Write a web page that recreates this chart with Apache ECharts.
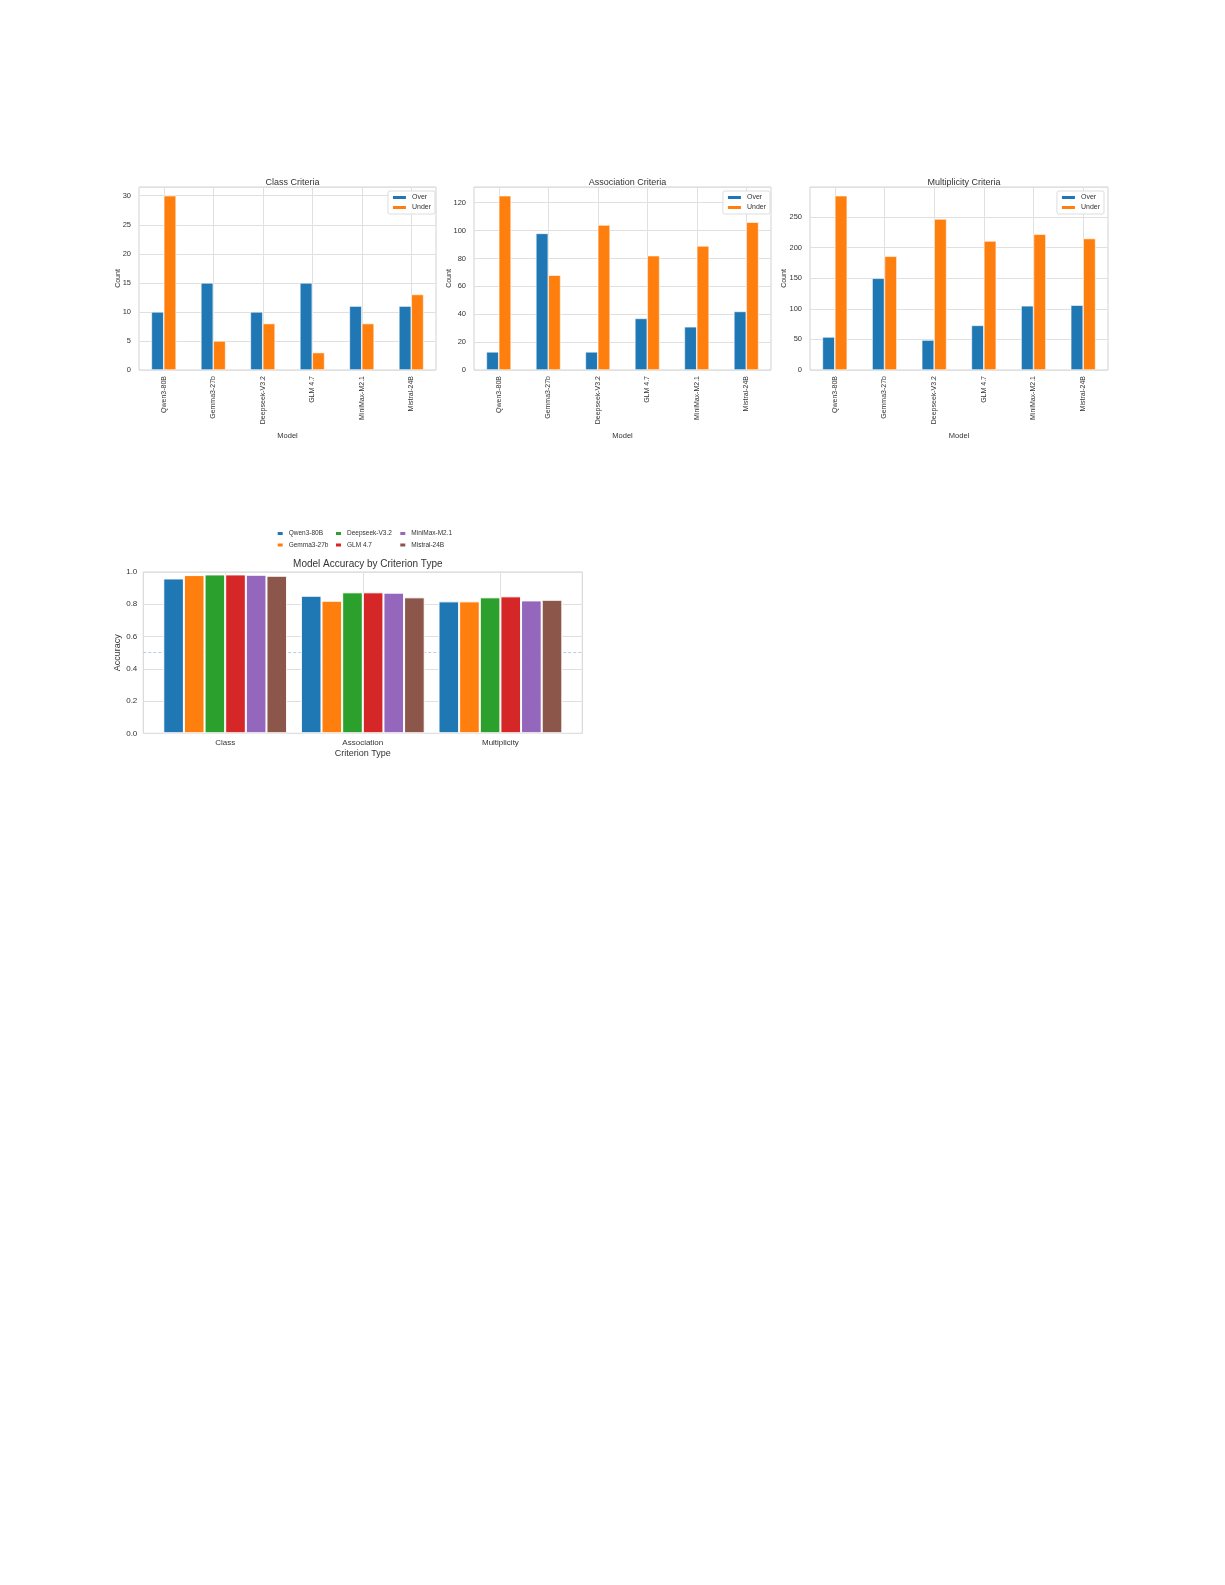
<!DOCTYPE html>
<html>
<head>
<meta charset="utf-8">
<script src="https://cdn.jsdelivr.net/npm/echarts@6/dist/echarts.min.js"></script>
<style>
html,body{margin:0;padding:0;background:#fff;}
#chart{width:1225px;height:1585px;}
</style>
</head>
<body>
<div id="chart"></div>
<script>
// ---------- data ----------
const models = ['Qwen3-80B', 'Gemma3-27b', 'Deepseek-V3.2', 'GLM 4.7', 'MiniMax-M2.1', 'Mistral-24B'];
const classOver = [10, 15, 10, 15, 11, 11];
const classUnder = [30, 5, 8, 3, 8, 13];
const assocOver = [13, 98, 13, 37, 31, 42];
const assocUnder = [125, 68, 104, 82, 89, 106];
const multOver = [54, 150, 49, 73, 105, 106];
const multUnder = [285, 186, 247, 211, 222, 215];

const criteria = ['Class', 'Association', 'Multiplicity'];
const accQwen = [0.960, 0.853, 0.818];
const accGemma = [0.981, 0.822, 0.818];
const accDeepseek = [0.985, 0.874, 0.843];
const accGLM = [0.985, 0.874, 0.849];
const accMiniMax = [0.983, 0.872, 0.824];
const accMistral = [0.977, 0.843, 0.828];
const accModels = ['Qwen3-80B', 'Gemma3-27b', 'Deepseek-V3.2', 'GLM 4.7', 'MiniMax-M2.1', 'Mistral-24B'];
const accSeries = [accQwen, accGemma, accDeepseek, accGLM, accMiniMax, accMistral];
const refLine = 0.5;

// ---------- style ----------
const FONT = '"Liberation Sans", Arial, Helvetica, sans-serif';
const TXT = '#333333';
const GRIDC = '#e0e0e0';
const BORDERC = '#d2d2d2';
const tab10 = ['#1f77b4', '#ff7f0e', '#2ca02c', '#d62728', '#9467bd', '#8c564b'];

const topPanels = [
  { title: 'Class Criteria', over: classOver, under: classUnder, max: 30 * 1.05, interval: 5, left: 139, width: 297, legendRight: 790, yNameGap: 17 },
  { title: 'Association Criteria', over: assocOver, under: assocUnder, max: 125 * 1.05, interval: 20, left: 474, width: 297, legendRight: 455, yNameGap: 21.5 },
  { title: 'Multiplicity Criteria', over: multOver, under: multUnder, max: 285 * 1.05, interval: 50, left: 810, width: 298, legendRight: 121, yNameGap: 22 }
];
const TOP_Y = 187, TOP_H = 183;

const grid = [], xAxis = [], yAxis = [], series = [], title = [], legend = [];

function gridLineSeries(xi, yi, cats) {
  return { type: 'line', name: '_grid' + xi, xAxisIndex: xi, yAxisIndex: yi, data: [],
    silent: true,
    markLine: { silent: true, symbol: 'none', z: 1, label: { show: false },
      emphasis: { disabled: true },
      lineStyle: { color: GRIDC, width: 1, type: 'solid' },
      data: cats.map(c => ({ xAxis: c })) } };
}

topPanels.forEach((p, i) => {
  grid.push({ left: p.left, top: TOP_Y, width: p.width, height: TOP_H, show: true,
    backgroundColor: '#fff', borderColor: BORDERC, borderWidth: 1, containLabel: false });
  xAxis.push({ type: 'category', gridIndex: i, data: models,
    axisLine: { show: false }, axisTick: { show: false },
    axisLabel: { rotate: 90, fontSize: 7, color: TXT, fontFamily: FONT, margin: 6, interval: 0 },
    name: 'Model', nameLocation: 'middle', nameGap: 62,
    nameTextStyle: { fontSize: 7.5, color: TXT, fontFamily: FONT } });
  yAxis.push({ type: 'value', gridIndex: i, min: 0, max: p.max, interval: p.interval,
    axisLine: { show: false }, axisTick: { show: false },
    splitLine: { lineStyle: { color: GRIDC, width: 1 } },
    axisLabel: { fontSize: 7.5, color: TXT, fontFamily: FONT, margin: 8, showMaxLabel: false },
    name: 'Count', nameLocation: 'middle', nameGap: p.yNameGap, nameMoveOverlap: false,
    nameTextStyle: { fontSize: 7, color: TXT, fontFamily: FONT } });
  series.push(gridLineSeries(i, i, models));
  series.push({ type: 'bar', name: 'Over', xAxisIndex: i, yAxisIndex: i, data: p.over,
    barWidth: '25%', barGap: '0%', itemStyle: { color: tab10[0], borderColor: '#fff', borderWidth: 0.6 },
    emphasis: { disabled: true } });
  series.push({ type: 'bar', name: 'Under', xAxisIndex: i, yAxisIndex: i, data: p.under,
    barWidth: '25%', barGap: '0%', itemStyle: { color: tab10[1], borderColor: '#fff', borderWidth: 0.6 },
    emphasis: { disabled: true } });
  title.push({ text: p.title, left: p.left + p.width / 2, top: 173, textAlign: 'center',
    textStyle: { fontSize: 9, fontWeight: 'normal', color: TXT, fontFamily: FONT } });
  legend.push({ data: ['Over', 'Under'], orient: 'vertical', right: p.legendRight, top: 191,
    itemWidth: 15, itemHeight: 5, itemGap: 3, icon: 'rect', padding: [3, 4, 3, 3],
    backgroundColor: 'rgba(255,255,255,0.85)', borderColor: '#dddddd', borderWidth: 1, borderRadius: 2,
    textStyle: { fontSize: 7, color: TXT, fontFamily: FONT }, selectedMode: false });
});

// ---------- bottom chart ----------
const B_LEFT = 143.3, B_TOP = 572, B_W = 439, B_H = 161.3;
// x limits of matplotlib axis in category units: -0.595 .. 2.595
const XL = -0.595, XR = 2.595;
const unit = B_W / (XR - XL);
const dLeft = B_LEFT + (-0.5 - XL) * unit;
const dWidth = 3 * unit;

// background frame grid (index 3)
grid.push({ left: B_LEFT, top: B_TOP, width: B_W, height: B_H, show: true,
  backgroundColor: '#fff', borderColor: BORDERC, borderWidth: 1 });
xAxis.push({ type: 'value', gridIndex: 3, min: XL, max: XR, show: false });
yAxis.push({ type: 'value', gridIndex: 3, min: 0, max: 1, interval: 0.2,
  axisLine: { show: false }, axisTick: { show: false },
  splitLine: { lineStyle: { color: GRIDC, width: 1 } },
  axisLabel: { fontSize: 8, color: TXT, fontFamily: FONT, margin: 6, formatter: v => v.toFixed(1) },
  name: 'Accuracy', nameLocation: 'middle', nameGap: 21, nameMoveOverlap: false,
  nameTextStyle: { fontSize: 9, color: TXT, fontFamily: FONT } });
series.push({ type: 'line', name: 'ref', xAxisIndex: 3, yAxisIndex: 3, data: [], silent: true,
  markLine: { silent: true, symbol: 'none', z: 1, label: { show: false },
    lineStyle: { color: '#a9bfd3', width: 0.8, type: [3, 2] },
    data: [{ yAxis: refLine }] } });

// data grid (index 4)
grid.push({ left: dLeft, top: B_TOP, width: dWidth, height: B_H, show: false });
xAxis.push({ type: 'category', gridIndex: 4, data: criteria,
  axisLine: { show: false }, axisTick: { show: false },
  axisLabel: { fontSize: 8, color: TXT, fontFamily: FONT, margin: 5 },
  name: 'Criterion Type', nameLocation: 'middle', nameGap: 16,
  nameTextStyle: { fontSize: 9, color: TXT, fontFamily: FONT } });
yAxis.push({ type: 'value', gridIndex: 4, min: 0, max: 1, show: false });

series.push(gridLineSeries(4, 4, criteria));
accModels.forEach((m, k) => {
  series.push({ type: 'bar', name: m, xAxisIndex: 4, yAxisIndex: 4, data: accSeries[k],
    barWidth: '15%', barGap: '0%', itemStyle: { color: tab10[k], borderColor: '#fff', borderWidth: 1 },
    emphasis: { disabled: true } });
});

title.push({ text: 'Model Accuracy by Criterion Type', left: B_LEFT + B_W / 2, top: 554.5, textAlign: 'center',
  textStyle: { fontSize: 10, fontWeight: 'normal', color: TXT, fontFamily: FONT } });

const legCols = [[0, 1], [2, 3], [4, 5]];
const legLefts = [275.7, 334, 398.3];
legCols.forEach((col, c) => {
  legend.push({ data: col.map(k => accModels[k]), orient: 'vertical', left: legLefts[c], top: 530,
    itemWidth: 7, itemHeight: 5, itemGap: 4.5, icon: 'rect', padding: 0,
    textStyle: { fontSize: 6.5, color: TXT, fontFamily: FONT }, selectedMode: false });
});

const chart = echarts.init(document.getElementById('chart'), null, { renderer: 'canvas' });
chart.setOption({
  animation: false,
  backgroundColor: '#ffffff',
  textStyle: { fontFamily: FONT },
  grid, xAxis, yAxis, series, title, legend
});
</script>
</body>
</html>
